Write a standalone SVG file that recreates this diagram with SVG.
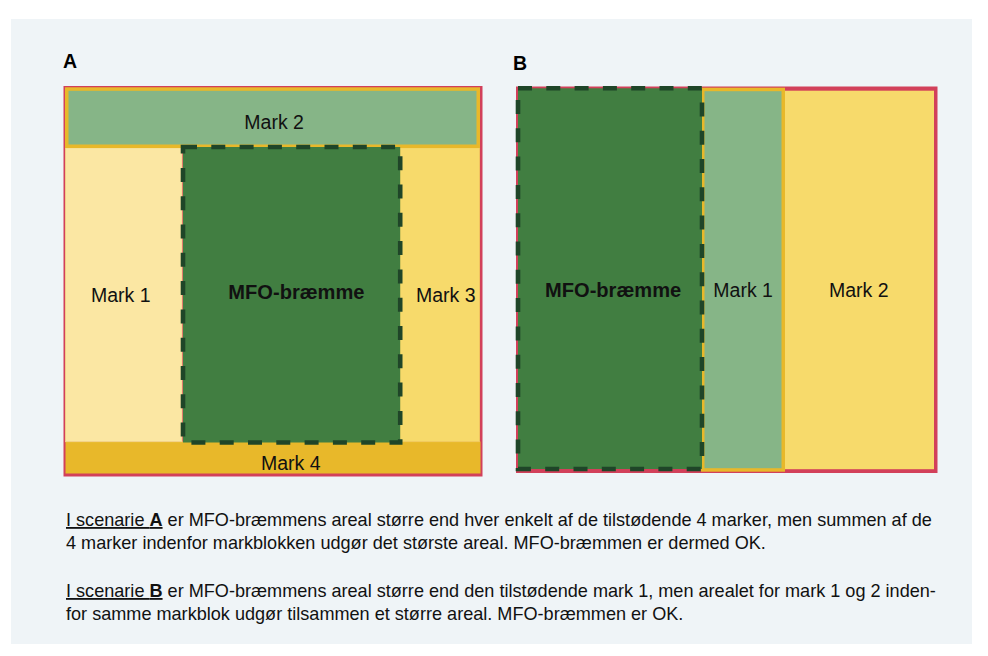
<svg xmlns="http://www.w3.org/2000/svg" width="988" height="656" viewBox="0 0 988 656">
  <style>
    .lbl { font-family: "Liberation Sans", Arial, sans-serif; font-size: 19.5px; fill: #111; }
    .bold { font-weight: bold; font-size: 20.1px; }
    .hdr { font-family: "Liberation Sans", Arial, sans-serif; font-size: 19.5px; font-weight: bold; fill: #000; }
    .body { font-family: "Liberation Sans", Arial, sans-serif; font-size: 18.1px; fill: #111; }
    .red { fill: #d2405a; }
    .m2 { fill: #86b587; stroke: #e8b82a; stroke-width: 3.5; }
    .mfo { fill: #417e41; stroke: #1f4528; stroke-width: 4.6; stroke-dasharray: 14 14.3; }
  </style>
  <rect x="0" y="0" width="988" height="656" fill="#ffffff"/>
  <rect id="panel" x="11" y="19" width="961" height="625" fill="#eff4f7"/>

  <g id="scenarioA">
    <text class="hdr" x="63" y="68">A</text>
    <rect id="A-frame" class="red" x="63.5" y="86" width="419" height="390.5"/>
    <g id="A-mark4">
      <rect x="65.5" y="441.5" width="415" height="32" fill="#e8b82a"/>
      <text class="lbl" x="261" y="469.5">Mark 4</text>
    </g>
    <g id="A-mark1">
      <rect x="65.5" y="148" width="116.5" height="293.7" fill="#fbe7a3" stroke="#f4d98a" stroke-width="0.8"/>
      <text class="lbl" x="91" y="302">Mark 1</text>
    </g>
    <g id="A-mark3">
      <rect x="400" y="148" width="79.5" height="293.7" fill="#f7da6b" stroke="#f3d060" stroke-width="0.8"/>
      <text class="lbl" x="416" y="302">Mark 3</text>
    </g>
    <g id="A-mark2">
      <rect class="m2" x="66.75" y="89.05" width="411.5" height="57.2"/>
      <text class="lbl" x="244.3" y="128.5">Mark 2</text>
    </g>
    <g id="A-mfo">
      <rect class="mfo" x="183" y="147" width="217.2" height="295.5"/>
      <text class="lbl bold" x="228.3" y="298.5">MFO-bræmme</text>
    </g>
  </g>

  <g id="scenarioB">
    <text class="hdr" x="513" y="70">B</text>
    <rect id="B-frame" class="red" x="516" y="86.5" width="421.5" height="386.5"/>
    <g id="B-mark2">
      <rect x="785" y="90.7" width="149" height="378.5" fill="#f7da6b"/>
      <text class="lbl" x="829" y="297">Mark 2</text>
    </g>
    <g id="B-mark1">
      <rect class="m2" x="702.75" y="89.45" width="80.5" height="380.5"/>
      <text class="lbl" x="713.3" y="297">Mark 1</text>
    </g>
    <g id="B-mfo">
      <rect class="mfo" x="518" y="88.3" width="184" height="380.7"/>
      <text class="lbl bold" x="545" y="297">MFO-bræmme</text>
    </g>
  </g>

  <g id="connectors"/>

  <g id="caption">
    <text class="body" x="66" y="526"><tspan text-decoration="underline">I scenarie <tspan font-weight="bold">A</tspan></tspan> er MFO-bræmmens areal større end hver enkelt af de tilstødende 4 marker, men summen af de</text>
    <text class="body" x="66" y="549">4 marker indenfor markblokken udgør det største areal. MFO-bræmmen er dermed OK.</text>
    <text class="body" x="66" y="597"><tspan text-decoration="underline">I scenarie <tspan font-weight="bold">B</tspan></tspan> er MFO-bræmmens areal større end den tilstødende mark 1, men arealet for mark 1 og 2 inden-</text>
    <text class="body" x="66" y="620">for samme markblok udgør tilsammen et større areal. MFO-bræmmen er OK.</text>
  </g>
</svg>
